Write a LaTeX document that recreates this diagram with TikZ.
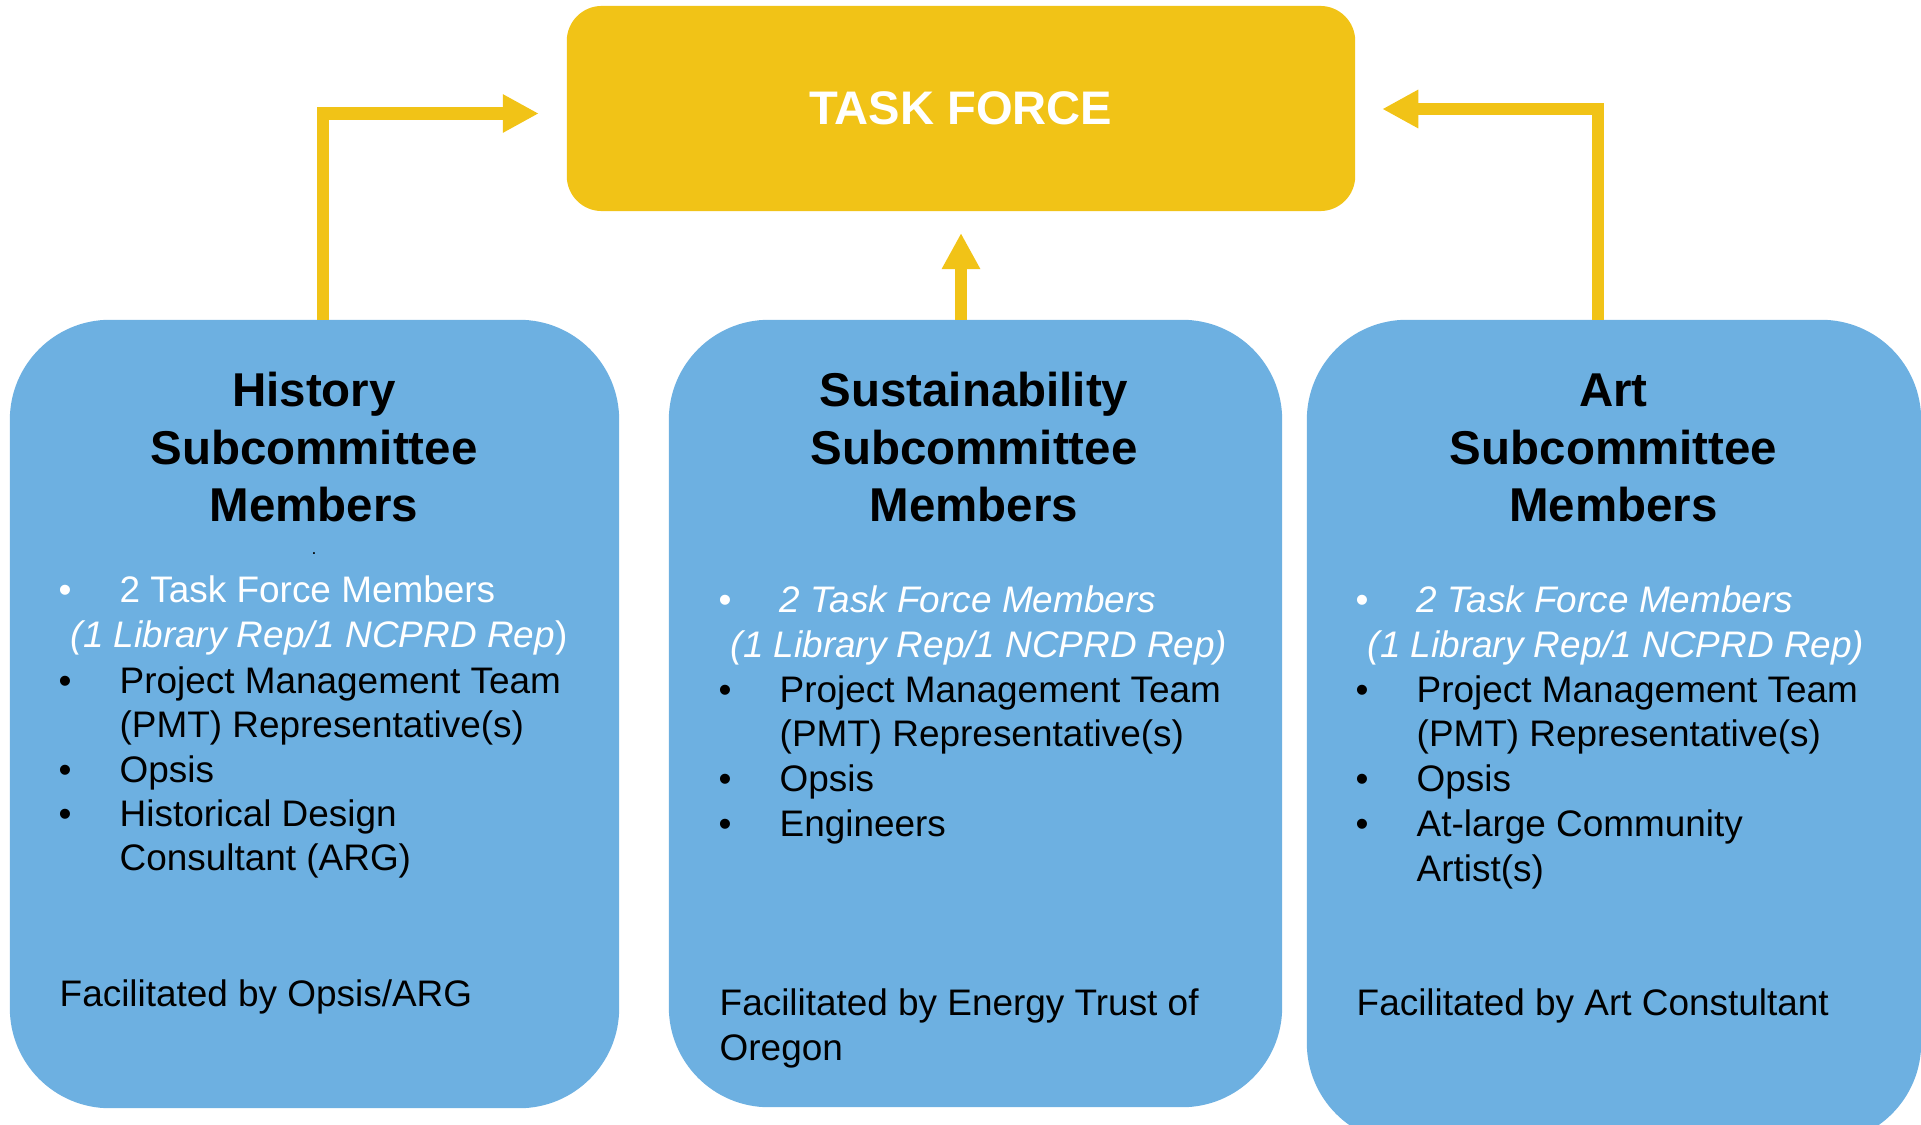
\documentclass[tikz,border=0pt]{standalone}
\usepackage{fontspec}
\setmainfont{Liberation Sans}
\usetikzlibrary{arrows.meta,calc,positioning}
\definecolor{tfyellow}{RGB}{241,195,23}
\definecolor{subblue}{RGB}{109,176,225}
\tikzset{
  tfbox/.style={fill=tfyellow,rounded corners=0.35cm,minimum width=7.88cm,minimum height=2.05cm,
    outer sep=0,text=white,font=\fontsize{13.4}{16}\selectfont\bfseries},
  subbox/.style={fill=subblue,rounded corners=1cm,outer sep=0},
  title/.style={anchor=base,inner sep=0,font=\fontsize{13.5}{16.4}\selectfont\bfseries},
  txt/.style={anchor=base west,inner sep=0,font=\fontsize{10.5}{12.7}\selectfont},
  bul/.style={anchor=base,inner sep=0,font=\fontsize{10.5}{12.7}\selectfont},
  link/.style={draw=tfyellow,line width=0.12cm,-{Triangle[length=0.36cm,width=0.36cm]}}
}

\begin{document}
\begin{tikzpicture}[x=0.01cm,y=-0.01cm]
  \clip (0,0) rectangle (1921,1124);
  % boxes
  \node[tfbox] (tf) at (961,108.5) {TASK FORCE};
  \node[subbox,minimum width=6.09cm,minimum height=7.88cm] (hist) at (314.5,714) {};
  \node[subbox,minimum width=6.13cm,minimum height=7.87cm] (sust) at (975.5,713.5) {};
  \node[subbox,minimum width=6.14cm,minimum height=8.23cm] (art) at (1614,731.5) {};
  % arrows
  \draw[link] ($(hist.north)+(8.5,0)$) |- ($(tf.west)+(-28,5)$);
  \draw[link] (tf.south |- sust.north) -- ($(tf.south)+(0,22)$);
  \draw[link] ($(art.north)+(-16,0)$) |- ($(tf.east)+(27,0.5)$);
  % history
  \node[title] (ht1) at (314,406.7) {History};
  \node[title] (ht2) at (314,464.3) {Subcommittee};
  \node[title] (ht3) at (314,521.9) {Members};
  \node[inner sep=0,font=\fontsize{5}{6}\selectfont] (hdot) at (314,554) {.};
  \node[bul,text=white] (hb1) at (65,602.4) {•};
  \node[txt,text=white] (h1) at (119,602.4) {2 Task Force Members};
  \node[txt,text=white] (h2) at (70,647.7) {\itshape(1 Library Rep/1 NCPRD Rep\/\upshape)};
  \node[bul] (hb3) at (65,693) {•};
  \node[txt] (h3) at (119,693) {Project Management Team};
  \node[txt] (h4) at (119,737.2) {(PMT) Representative(s)};
  \node[bul] (hb5) at (65,782.5) {•};
  \node[txt] (h5) at (119,782.5) {Opsis};
  \node[bul] (hb6) at (65,826.6) {•};
  \node[txt] (h6) at (119,826.6) {Historical Design};
  \node[txt] (h7) at (119,870.7) {Consultant (ARG)};
  \node[txt] (hf) at (59,1006.7) {Facilitated by Opsis/ARG};
  % sustainability
  \node[title] (st1) at (974,406.7) {Sustainability};
  \node[title] (st2) at (974,464.3) {Subcommittee};
  \node[title] (st3) at (974,521.9) {Members};
  \node[bul,text=white] (sb1) at (725,612.2) {•};
  \node[txt,text=white] (s1) at (779,612.2) {\itshape 2 Task Force Members};
  \node[txt,text=white] (s2) at (730,657.5) {\itshape(1 Library Rep/1 NCPRD Rep)};
  \node[bul] (sb3) at (725,702.8) {•};
  \node[txt] (s3) at (779,702.8) {Project Management Team};
  \node[txt] (s4) at (779,746.9) {(PMT) Representative(s)};
  \node[bul] (sb5) at (725,791.1) {•};
  \node[txt] (s5) at (779,791.1) {Opsis};
  \node[bul] (sb6) at (725,836.4) {•};
  \node[txt] (s6) at (779,836.4) {Engineers};
  \node[txt] (sf1) at (719,1015.2) {Facilitated by Energy Trust of};
  \node[txt] (sf2) at (719,1060.6) {Oregon};
  % art
  \node[title] (at1) at (1613.5,406.7) {Art};
  \node[title] (at2) at (1613.5,464.3) {Subcommittee};
  \node[title] (at3) at (1613.5,521.9) {Members};
  \node[bul,text=white] (ab1) at (1362,612.2) {•};
  \node[txt,text=white] (a1) at (1416,612.2) {\itshape 2 Task Force Members};
  \node[txt,text=white] (a2) at (1367,657.5) {\itshape(1 Library Rep/1 NCPRD Rep)};
  \node[bul] (ab3) at (1362,702.8) {•};
  \node[txt] (a3) at (1416,702.8) {Project Management Team};
  \node[txt] (a4) at (1416,746.9) {(PMT) Representative(s)};
  \node[bul] (ab5) at (1362,791.1) {•};
  \node[txt] (a5) at (1416,791.1) {Opsis};
  \node[bul] (ab6) at (1362,836.4) {•};
  \node[txt] (a6) at (1416,836.4) {At-large Community};
  \node[txt] (a7) at (1416,881.7) {Artist(s)};
  \node[txt] (af) at (1356,1015.2) {Facilitated by Art Constultant};
\end{tikzpicture}
\end{document}
